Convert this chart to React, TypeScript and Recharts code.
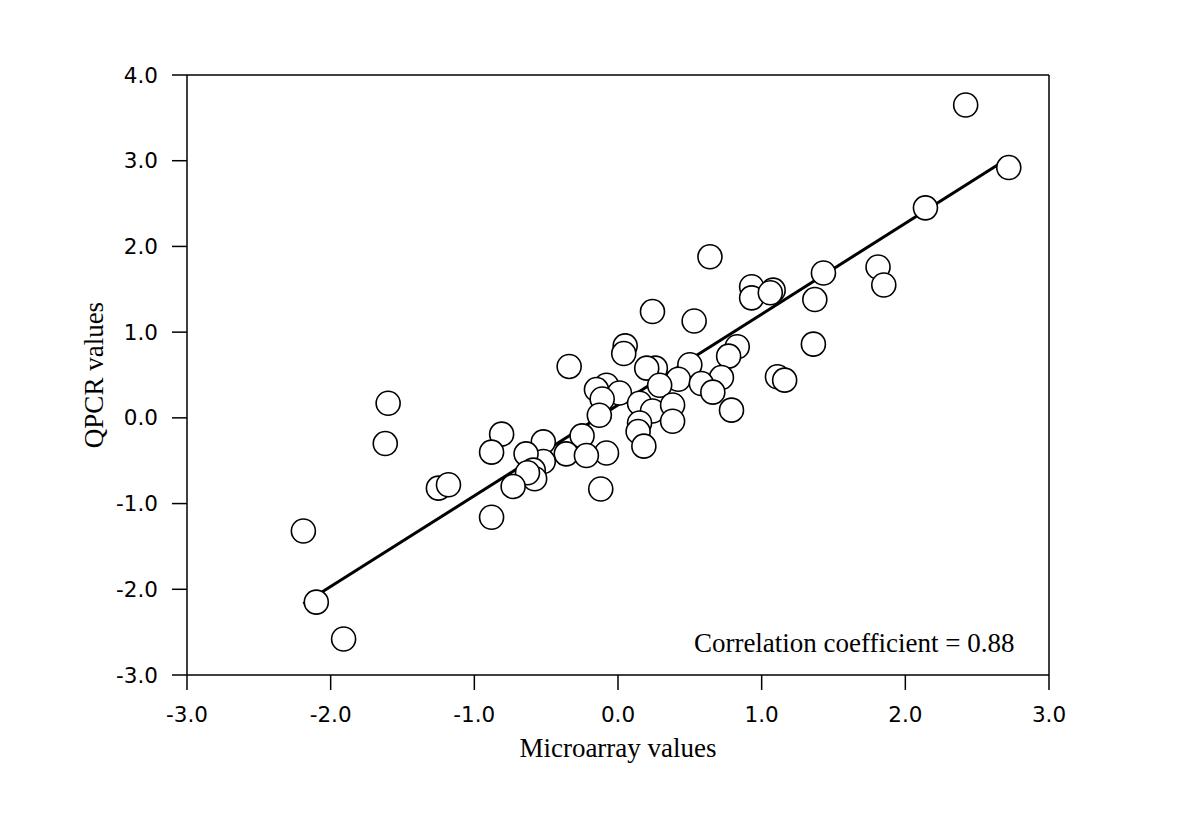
import React from "react";
import {
  ComposedChart,
  Scatter,
  XAxis,
  YAxis,
  ReferenceLine,
  ReferenceDot,
  Label,
} from "recharts";

// microarray (x) and QPCR (y) values
const microarrayValues = [
  2.42, 2.72, 2.14, 0.64, 0.93, 1.08, 0.93, 1.06, 1.43, 1.81, 1.85, 1.37,
  1.36, 0.24, 0.53, 0.05, 0.04, -0.34, 0.83, 0.77, 1.11, 1.16, 0.5, 0.42,
  0.72, 0.58, 0.66, 0.79, 0.26, 0.2, 0.29, -0.08, 0.01, -0.15, -0.11, -0.13,
  0.15, 0.24, 0.38, 0.38, 0.15, 0.14, 0.18, -0.08, -0.25, -0.36, -0.22,
  -0.12, -0.52, -0.52, -0.64, -0.59, -0.58, -0.63, -0.73, -0.81, -0.88,
  -0.88, -1.25, -1.18, -1.6, -1.62, -2.19, -2.1, -1.91,
];
const qpcrValues = [
  3.65, 2.92, 2.45, 1.88, 1.53, 1.49, 1.4, 1.46, 1.69, 1.76, 1.55, 1.38,
  0.86, 1.24, 1.13, 0.84, 0.75, 0.6, 0.83, 0.72, 0.48, 0.44, 0.62, 0.45,
  0.47, 0.4, 0.3, 0.09, 0.58, 0.58, 0.38, 0.38, 0.29, 0.33, 0.22, 0.03,
  0.17, 0.08, 0.15, -0.04, -0.06, -0.16, -0.33, -0.41, -0.21, -0.42, -0.44,
  -0.83, -0.28, -0.51, -0.42, -0.61, -0.71, -0.64, -0.8, -0.19, -0.4,
  -1.16, -0.82, -0.78, 0.17, -0.3, -1.32, -2.15, -2.58,
];

// regression line end points
const fitX = [-2.19, 2.68];
const fitY = [-2.17, 2.99];

const ticks = [-3, -2, -1, 0, 1, 2, 3];
const yTicks = [-3, -2, -1, 0, 1, 2, 3, 4];

const points = microarrayValues.map((x, i) => ({ x, y: qpcrValues[i] }));
const fitLine = fitX.map((x, i) => ({ x, y: fitY[i] }));

const serif = "'Liberation Serif', 'Times New Roman', serif";
const sans = "'DejaVu Sans', sans-serif";

const Dot = (props: any) => (
  <circle
    cx={props.cx}
    cy={props.cy}
    r={12}
    fill="#fff"
    stroke="#000"
    strokeWidth={1.6}
  />
);

export default function App() {
  return (
    <ComposedChart
      width={1184}
      height={810}
      margin={{ top: 67, right: 143, bottom: 0, left: 39 }}
    >
      <XAxis
        type="number"
        dataKey="x"
        domain={[-3, 3]}
        ticks={ticks}
        tickFormatter={(v: number) => v.toFixed(1)}
        allowDataOverflow
        height={143}
        stroke="#000"
        strokeWidth={1.5}
        tickSize={15}
        tickMargin={17}
        tick={{ fill: "#000", fontFamily: sans, fontSize: 21.5 }}
      >
        <Label
          value="Microarray values"
          position="insideTop"
          offset={63}
          fill="#000"
          fontFamily={serif}
          fontSize={27}
        />
      </XAxis>
      <YAxis
        type="number"
        dataKey="y"
        domain={[-3, 4]}
        ticks={yTicks}
        tickFormatter={(v: number) => v.toFixed(1)}
        allowDataOverflow
        width={140}
        stroke="#000"
        strokeWidth={1.5}
        tickSize={15}
        tickMargin={14}
        tick={{ fill: "#000", fontFamily: sans, fontSize: 21.5 }}
      >
        <Label
          value="QPCR values"
          angle={-90}
          position="insideLeft"
          offset={46}
          fill="#000"
          fontFamily={serif}
          fontSize={27}
          style={{ textAnchor: "middle" }}
        />
      </YAxis>
      <ReferenceLine y={4} stroke="#000" strokeWidth={1.5} />
      <ReferenceLine x={3} stroke="#000" strokeWidth={1.5} />
      <Scatter
        data={fitLine}
        line={{ stroke: "#000", strokeWidth: 3 }}
        shape={() => <g />}
        isAnimationActive={false}
      />
      <Scatter data={points} shape={Dot} isAnimationActive={false} />
      <ReferenceDot
        x={2.76}
        y={-2.73}
        r={0}
        shape={(p: any) => (
          <text
            x={p.cx}
            y={p.cy}
            textAnchor="end"
            fontFamily={serif}
            fontSize={27}
            fill="#000"
          >
            Correlation coefficient = 0.88
          </text>
        )}
      />
    </ComposedChart>
  );
}
